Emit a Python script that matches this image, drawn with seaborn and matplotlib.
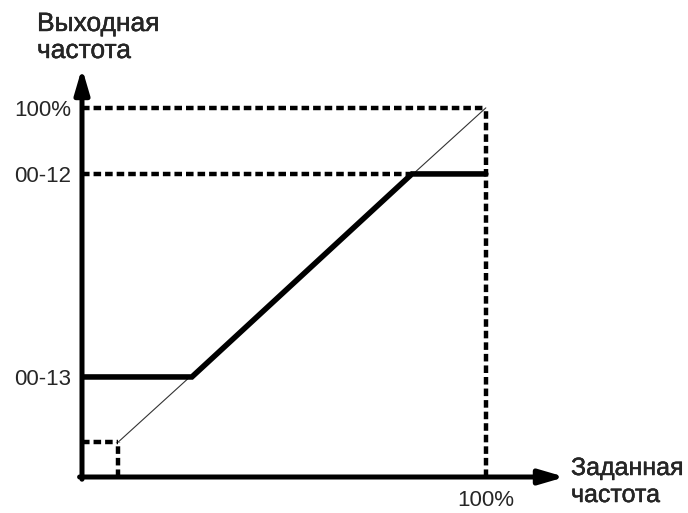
import matplotlib
matplotlib.use("Agg")
import matplotlib.pyplot as plt
import matplotlib.patheffects as pe
import seaborn as sns
import pandas as pd

# ---- data (percent of full scale) ----
ytick_values = [27.1, 82.1, 100.0]
ytick_labels = ["00-13", "00-12", "100%"]
xtick_values = [100.0]
xtick_labels = ["100%"]

# output characteristic (thick line): lower limit 00-13, upper limit 00-12
out_x = [0.0, 27.2, 81.7, 100.0]
out_y = [27.1, 27.1, 82.1, 82.1]

# reference diagonal (thin line)
ref_x = [9.0, 100.0]
ref_y = [9.5, 100.0]

# small start square
start_x = 9.0
start_y = 9.5

y_axis_label = ["Выходная", "частота"]
x_axis_label = ["Заданная", "частота"]

# ---- figure ----
sns.set_style("white")
plt.rcParams["font.family"] = ["Liberation Sans", "DejaVu Sans"]

W, H = 688, 513
fig = plt.figure(figsize=(W / 100, H / 100), dpi=100)
x0, y0, x1, y1 = 82, 477, 565, 68
ax = fig.add_axes([x0 / W, (H - y0) / H, (x1 - x0) / W, (y0 - y1) / H])
ax.set_xlim(0, 119.6)
ax.set_ylim(0, 110.8)
for s in ax.spines.values():
    s.set_visible(False)

dash_kw = dict(color="black", lw=3.2, linestyle=(0, (1.7, 0.9)), dash_capstyle="butt")

# dashed guides
ax.plot([0, xtick_values[0]], [ytick_values[2], ytick_values[2]], **dash_kw)
ax.plot([xtick_values[0], xtick_values[0]], [0, ytick_values[2]], **dash_kw)
ax.plot([0, out_x[2]], [ytick_values[1], ytick_values[1]], **dash_kw)
ax.plot([0, start_x], [start_y, start_y], **dash_kw)
ax.plot([start_x, start_x], [0, start_y], **dash_kw)

# thin reference diagonal
ref = pd.DataFrame({"x": ref_x, "y": ref_y})
sns.lineplot(data=ref, x="x", y="y", ax=ax, color="#333333", lw=0.8,
             estimator=None, sort=False)

# thick output characteristic
out = pd.DataFrame({"x": out_x, "y": out_y})
sns.lineplot(data=out, x="x", y="y", ax=ax, color="black", lw=4.0,
             estimator=None, sort=False, solid_joinstyle="miter")

# axes with arrows
arrow = dict(arrowstyle="-|>,head_length=0.75,head_width=0.22", color="black",
             lw=3.6, shrinkA=0, shrinkB=0, mutation_scale=20)
ax.annotate("", xy=(0, 110.8), xytext=(0, -0.6), arrowprops=arrow, annotation_clip=False)
ax.annotate("", xy=(119.6, 0), xytext=(-0.6, 0), arrowprops=arrow, annotation_clip=False)

stroke = [pe.withStroke(linewidth=0.3, foreground="black")]
ax.set_yticks(ytick_values, ytick_labels, fontsize=16)
ax.set_xticks(xtick_values, xtick_labels, fontsize=16)
ax.tick_params(axis="y", length=0, pad=8)
ax.tick_params(axis="x", length=0, pad=9)
ax.set_xlabel("")
ax.set_ylabel("")

# axis titles (baselines in pixels)
def fx(px):
    return px / W

def fy(py):
    return (H - py) / H

tkw = dict(va="baseline", ha="left", path_effects=stroke)
fig.text(fx(37), fy(31), y_axis_label[0], fontsize=19, **tkw)
fig.text(fx(37), fy(58), y_axis_label[1], fontsize=19, **tkw)
fig.text(fx(571), fy(475), x_axis_label[0], fontsize=18, **tkw)
fig.text(fx(571), fy(502), x_axis_label[1], fontsize=18, **tkw)

fig.savefig("out.png", dpi=100)
